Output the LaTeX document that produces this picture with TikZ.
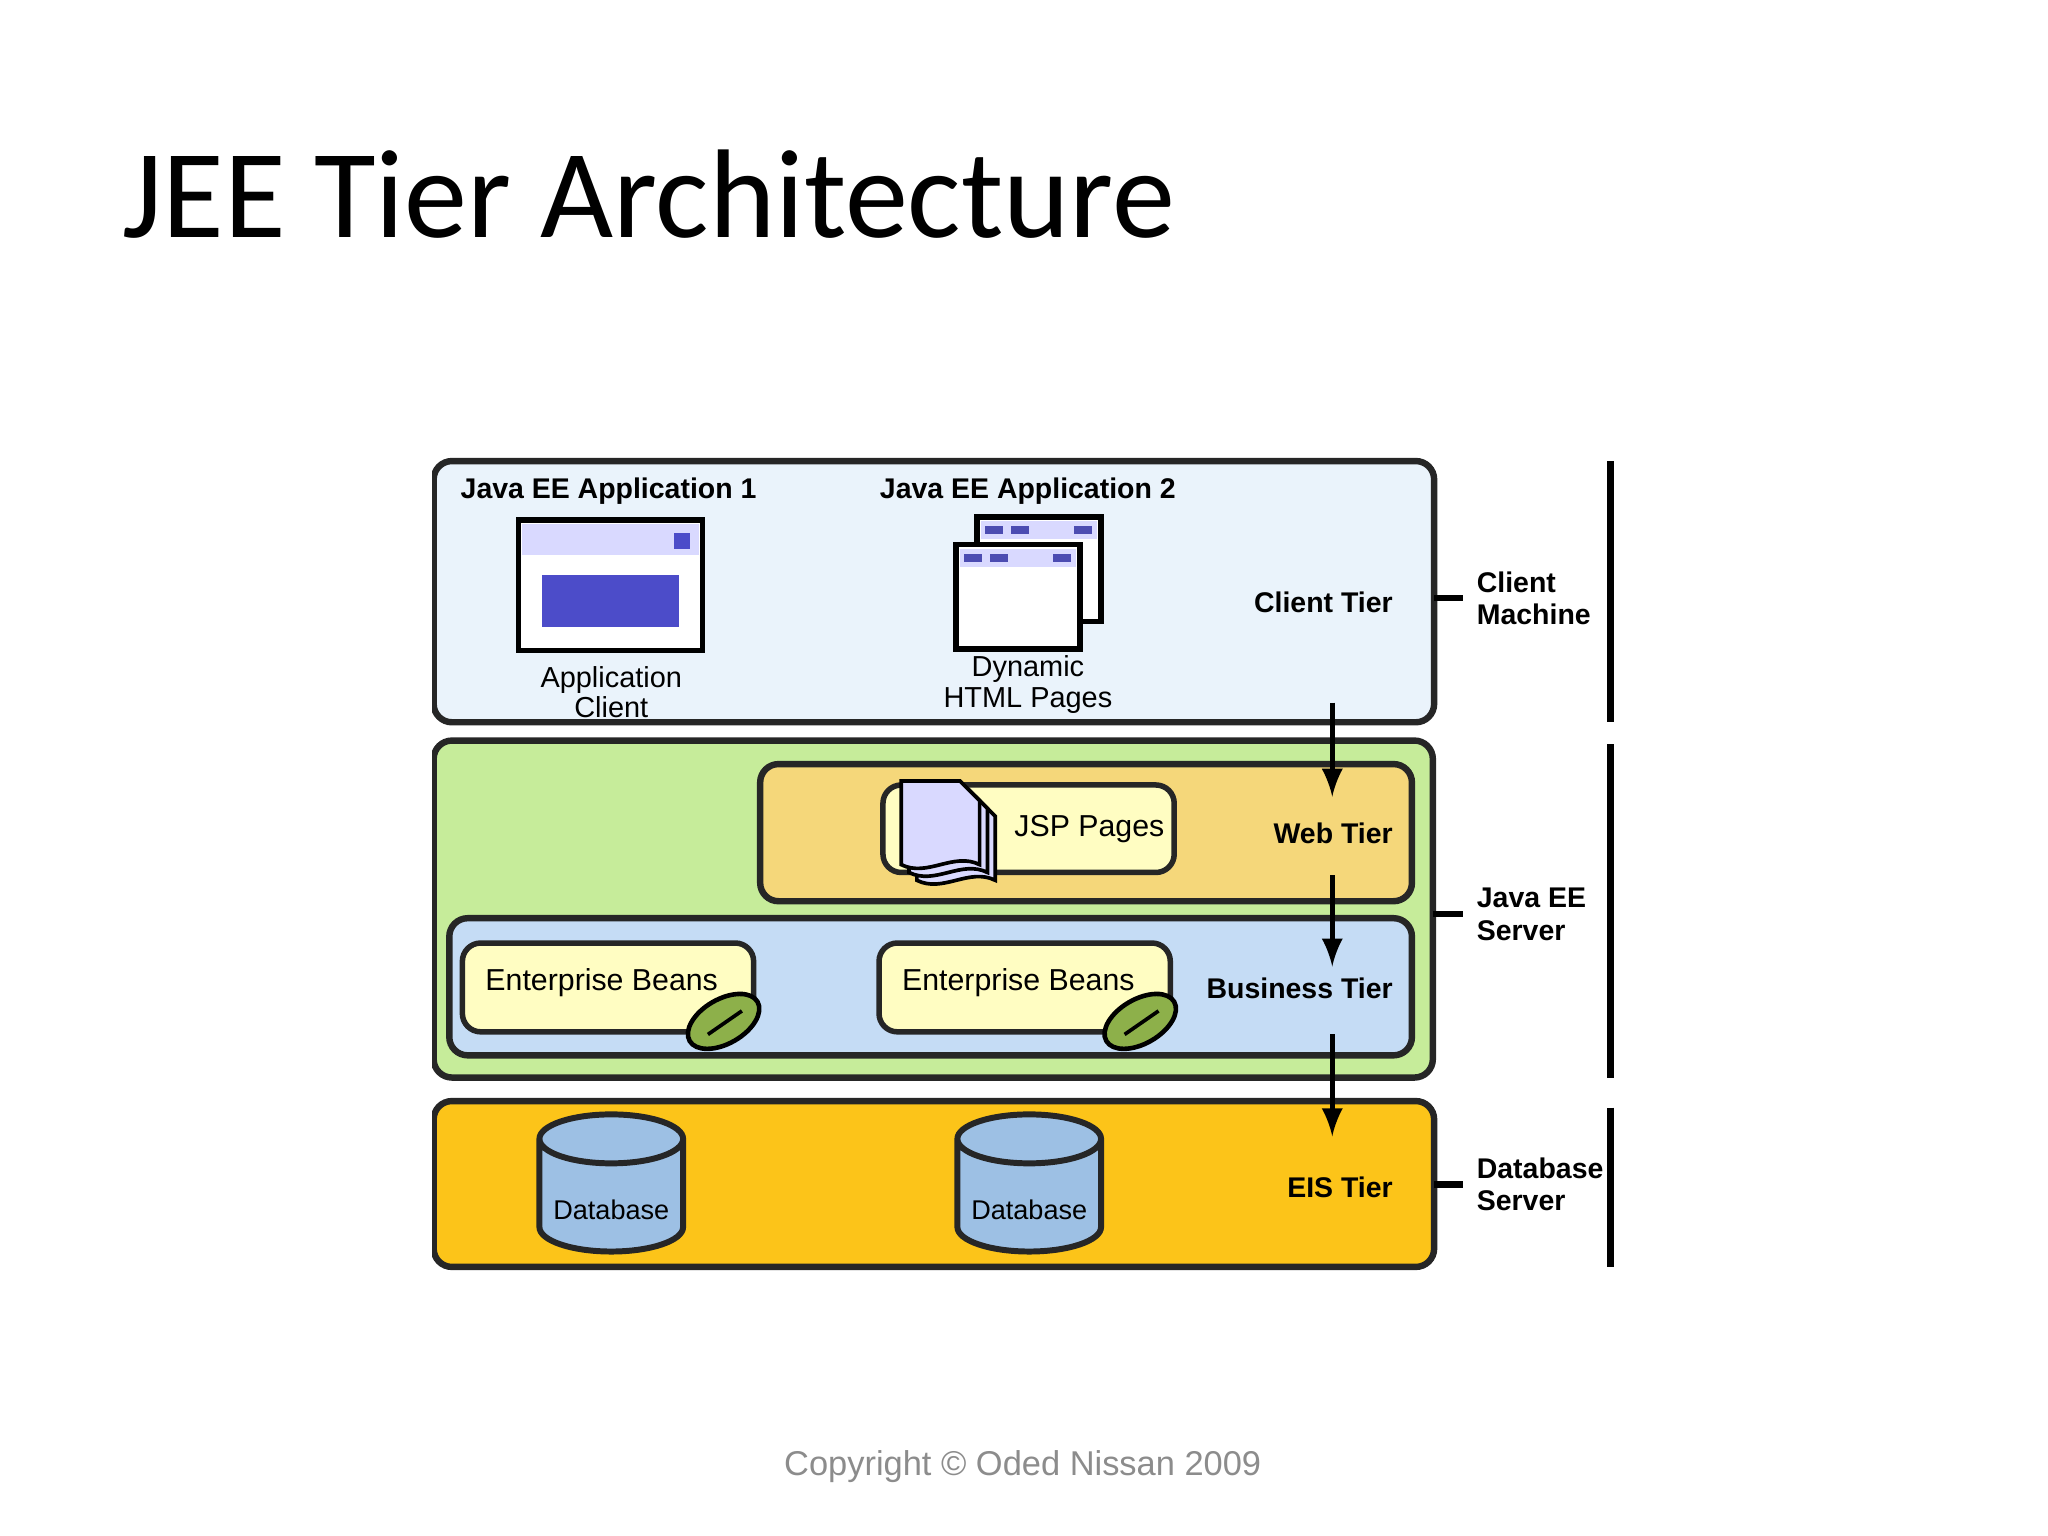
\documentclass[tikz,border=0pt]{standalone}
\usepackage{fontspec}
\setmainfont{Liberation Sans}
\newfontfamily\titlefont{Carlito}
\usetikzlibrary{positioning,shapes.geometric}
\definecolor{clientbg}{HTML}{EAF3FB}
\definecolor{serverbg}{HTML}{C6EC9A}
\definecolor{webbg}{HTML}{F5D77A}
\definecolor{bizbg}{HTML}{C5DCF5}
\definecolor{eisbg}{HTML}{FCC419}
\definecolor{itembg}{HTML}{FFFDC2}
\definecolor{beanbg}{HTML}{8DB04A}
\definecolor{dbbg}{HTML}{9DC0E4}
\begin{document}
\begin{tikzpicture}[x=1cm,y=-1cm,
tier/.style={draw=black!85, line width=1.4pt, rounded corners=4pt},
item/.style={draw=black!85, line width=1.2pt, rounded corners=4pt, fill=itembg},
lbl/.style={font=\fontsize{6.2}{7}\selectfont\bfseries, align=left, inner sep=0pt},
txt/.style={font=\fontsize{6.3}{6.6}\selectfont, align=center, inner sep=0pt},
arr/.style={-latex, line width=1.1pt},
brk/.style={line width=1.4pt}]
\useasboundingbox (0,0) rectangle (15.68,11.76);
\node[anchor=base west, inner sep=0pt, font=\titlefont\fontsize{27.5}{31}\selectfont] (title) at (0.93,1.82) {JEE Tier Architecture};

% tiers
\draw[tier, fill=clientbg] (3.32,3.53) rectangle (10.98,5.53);
\draw[tier, fill=serverbg] (3.32,5.67) rectangle (10.97,8.25);
\draw[tier, fill=webbg] (5.82,5.85) rectangle (10.81,6.90);
\draw[tier, fill=bizbg] (3.44,7.03) rectangle (10.81,8.08);
\draw[tier, fill=eisbg] (3.32,8.43) rectangle (10.98,9.70);
\fill[white] (3.20,3.45) rectangle (3.31,9.80);

\node[lbl, anchor=west] (app1) at (3.52,3.76) {Java EE Application 1};
\node[lbl, anchor=west] (app2) at (6.73,3.76) {Java EE Application 2};
\node[lbl, anchor=east] (client) at (10.67,4.61) {Client Tier};
\node[lbl, anchor=east] (web) at (10.67,6.38) {Web Tier};
\node[lbl, anchor=east] (biz) at (10.67,7.57) {Business Tier};
\node[lbl, anchor=east] (eis) at (10.67,9.09) {EIS Tier};

% application client window
\draw[line width=1.2pt, fill=white] (3.97,3.98) rectangle (5.38,4.98);
\fill[blue!15] (4.00,4.01) rectangle (5.35,4.25);
\fill[blue!70!black!70] (5.16,4.08) rectangle (5.28,4.20);
\fill[blue!70!black!70] (4.15,4.40) rectangle (5.20,4.80);
\node[txt] (appcl) at (4.68,5.30) {Application\\Client};

% dynamic html pages
\foreach \dx/\dy in {0.16/-0.21, 0/0} {
  \draw[line width=1.2pt, fill=white] (7.32+\dx,4.17+\dy) rectangle (8.27+\dx,4.97+\dy);
  \fill[blue!15] (7.35+\dx,4.20+\dy) rectangle (8.24+\dx,4.34+\dy);
  \fill[blue!40!gray] (7.38+\dx,4.24+\dy) rectangle (7.52+\dx,4.30+\dy);
  \fill[blue!40!gray] (7.58+\dx,4.24+\dy) rectangle (7.72+\dx,4.30+\dy);
  \fill[blue!40!gray] (8.06+\dx,4.24+\dy) rectangle (8.20+\dx,4.30+\dy);
}
\node[txt] (dyn) at (7.87,5.24) {Dynamic\\HTML Pages};

% JSP pages
\draw[item] (6.76,6.01) rectangle (8.99,6.68);
\foreach \d in {0.12,0.06,0} {
  \draw[line width=0.8pt, fill=blue!15] (6.90+\d,5.98+\d) -- (7.35+\d,5.98+\d) -- (7.50+\d,6.13+\d) -- (7.50+\d,6.62+\d)
    .. controls (7.30+\d,6.52+\d) and (7.10+\d,6.72+\d) .. (6.90+\d,6.62+\d) -- cycle;
}
\node[txt, font=\fontsize{6.6}{7}\selectfont, anchor=west] (jsp) at (7.76,6.35) {JSP Pages};

% enterprise beans
\foreach \x/\n in {3.54/bean1, 6.73/bean2} {
  \draw[item] (\x,7.22) rectangle (\x+2.23,7.90);
  \node[txt, font=\fontsize{6.6}{7}\selectfont, anchor=west] (\n) at (\x+0.17,7.52) {Enterprise Beans};
  \draw[line width=1pt, fill=beanbg, rotate around={30:(\x+2.00,7.82)}] (\x+2.00,7.82) ellipse (0.30 and 0.17);
  \draw[line width=0.8pt] (\x+1.88,7.92) -- (\x+2.14,7.74);
}

% databases
\foreach \x/\n in {4.68/db1, 7.88/db2} {
  \node[cylinder, shape border rotate=90, draw=black!85, line width=1.3pt, fill=dbbg,
    cylinder uses custom fill, cylinder body fill=dbbg!90, cylinder end fill=dbbg!40,
    minimum width=1.1cm, minimum height=1.05cm, aspect=1.6] (\n) at (\x,9.22) {};
  \node[txt, font=\fontsize{5.9}{6.5}\selectfont] at (\x,9.26) {Database};
}

% flow arrows
\coordinate (a0) at (10.20,5.38);
\coordinate (a1) at (10.20,6.10);
\coordinate (b0) at (10.20,6.70);
\coordinate (b1) at (10.20,7.40);
\coordinate (c0) at (10.20,7.92);
\coordinate (c1) at (10.20,8.70);
\draw[arr] (a0) -- (a1);
\draw[arr] (b0) -- (b1);
\draw[arr] (c0) -- (c1);

% machines
\node[lbl, anchor=west] (cm) at (11.30,4.58) {Client\\Machine};
\node[lbl, anchor=west] (js) at (11.30,7.00) {Java EE\\Server};
\node[lbl, anchor=west] (ds) at (11.30,9.07) {Database\\Server};
\coordinate (t1) at (10.98,4.58);
\coordinate (t2) at (10.97,7.00);
\coordinate (t3) at (10.98,9.07);
\draw[brk] (t1) -- ([xshift=-1mm]cm.west);
\draw[brk] (t2) -- ([xshift=-1mm]js.west);
\draw[brk] (t3) -- ([xshift=-1mm]ds.west);
\draw[brk] (12.33,3.53) -- (12.33,5.53);
\draw[brk] (12.33,5.70) -- (12.33,8.25);
\draw[brk] (12.33,8.48) -- (12.33,9.70);

\node[font=\fontsize{7.5}{9}\selectfont, text=black!45] (copy) at (7.83,11.23) {Copyright \textcopyright{} Oded Nissan 2009};
\end{tikzpicture}
\end{document}
